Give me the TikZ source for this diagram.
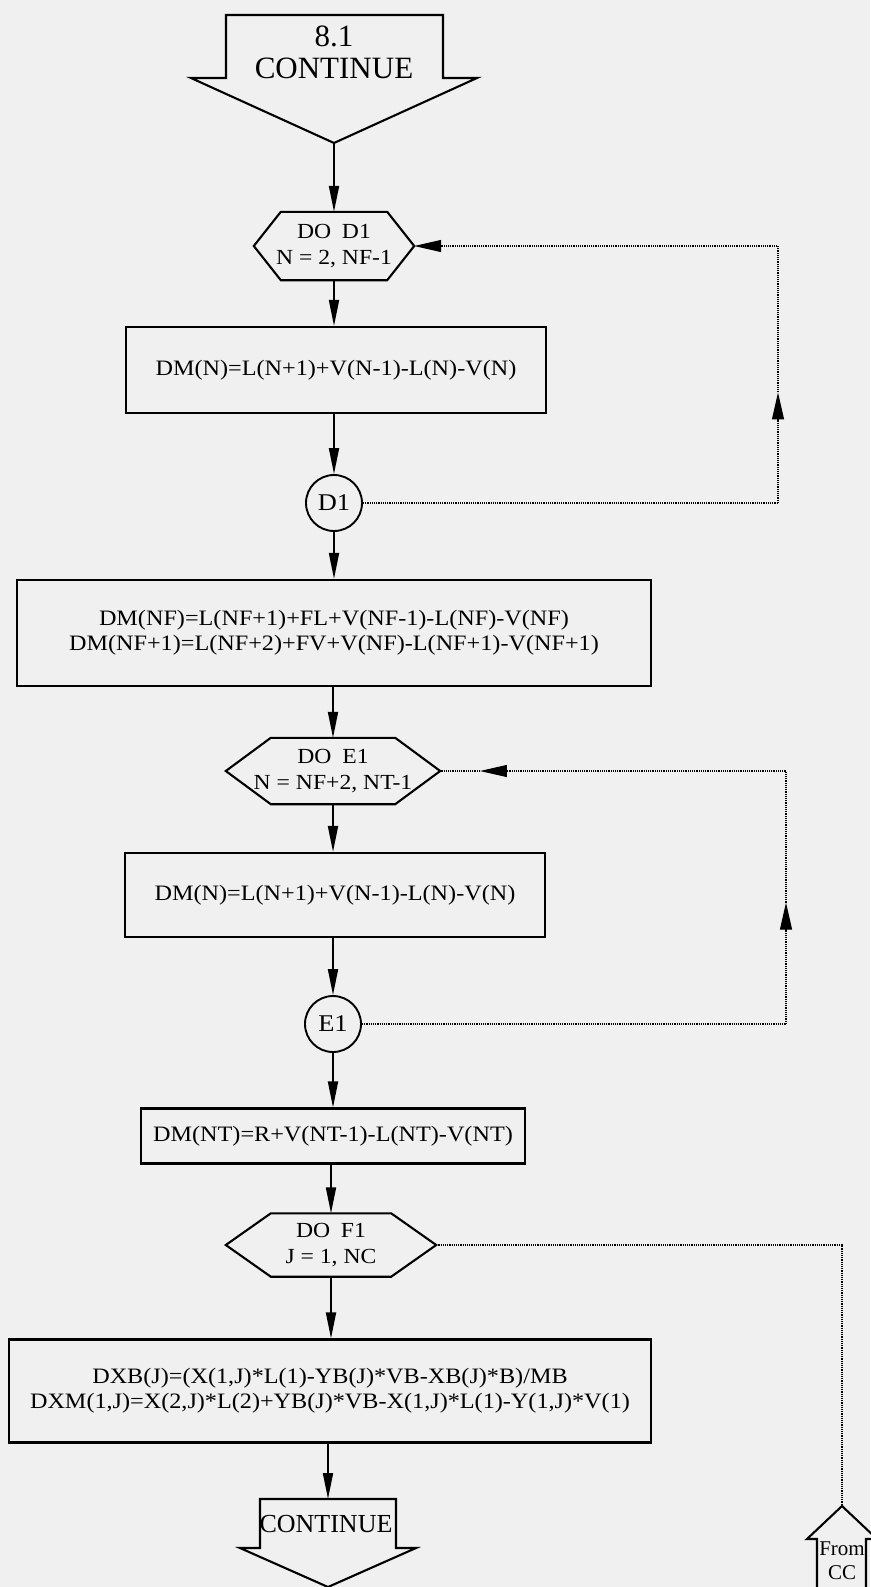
\documentclass[tikz,border=0pt]{standalone}
\usepackage{fontspec}
\setmainfont{Liberation Serif}
\newfontfamily\flowfont[FakeStretch=1.1]{Liberation Serif}
\usetikzlibrary{arrows.meta,positioning,calc}

\tikzset{
  box/.style={draw, line width=2.1pt, align=center, inner sep=0pt,
    font=\flowfont\fontsize{22}{25}\selectfont},
  hexa/.style={align=center, inner sep=0pt,
    font=\flowfont\fontsize{21.5}{26}\selectfont},
  conn/.style={circle, draw, line width=1.9pt, minimum size=56pt, inner sep=0pt,
    font=\flowfont\fontsize{24}{26}\selectfont},
  arrowtxt/.style={align=center, inner sep=0pt},
  outline/.style={line width=2.1pt, line join=miter},
  flow/.style={line width=1.8pt, -{Triangle[length=26pt,width=10pt]}},
  loop/.style={line width=1.1pt, dash pattern=on 1.2pt off 1pt},
  loophead/.style={loop, -{Triangle[length=27pt,width=12pt]}},
}
\newcommand\hexout[2]{%
  \draw[outline] (#1.west) -- ([xshift=#2pt]#1.north west)
    -- ([xshift=-#2pt]#1.north east) -- (#1.east)
    -- ([xshift=-#2pt]#1.south east) -- ([xshift=#2pt]#1.south west) -- cycle;}

\begin{document}
\begin{tikzpicture}[x=1pt, y=-1pt]
  \fill[black!6] (0,0) rectangle (870,1587);
  \useasboundingbox (0,0) rectangle (870,1587);

  % entry arrow
  \node[arrowtxt, font=\fontsize{31}{32}\selectfont] (start) at (334,52) {8.1\\CONTINUE};
  \coordinate (startTip) at (334,143);
  \draw[outline] (226,15) -- (443,15) -- (443,78) -- (477,78) -- (startTip)
    -- (191,78) -- (226,78) -- cycle;

  % loop D1
  \node[hexa, minimum width=160pt, minimum height=68pt] (doD) at (334,246) {DO\enspace D1\\N = 2, NF-1};
  \hexout{doD}{27}
  \node[box, minimum width=420pt, minimum height=86pt] (calcA) at (336,370) {DM(N)=L(N+1)+V(N-1)-L(N)-V(N)};
  \node[conn] (dOne) at (334,503) {D1};

  \node[box, minimum width=634pt, minimum height=106pt] (calcB) at (334,633)
    {DM(NF)=L(NF+1)+FL+V(NF-1)-L(NF)-V(NF)\\DM(NF+1)=L(NF+2)+FV+V(NF)-L(NF+1)-V(NF+1)};

  % loop E1
  \node[hexa, minimum width=214pt, minimum height=66pt] (doE) at (333,771) {DO\enspace E1\\N = NF+2, NT-1};
  \hexout{doE}{45}
  \node[box, minimum width=420pt, minimum height=84pt] (calcC) at (335,895) {DM(N)=L(N+1)+V(N-1)-L(N)-V(N)};
  \node[conn] (eOne) at (333,1024) {E1};

  \node[box, minimum width=384pt, minimum height=55pt] (calcD) at (333,1136) {DM(NT)=R+V(NT-1)-L(NT)-V(NT)};

  % loop F1
  \node[hexa, minimum width=210pt, minimum height=63pt] (doF) at (331,1245) {DO\enspace F1\\J = 1, NC};
  \hexout{doF}{45}
  \node[box, minimum width=642pt, minimum height=103pt] (calcE) at (330,1391)
    {DXB(J)=(X(1,J)*L(1)-YB(J)*VB-XB(J)*B)/MB\\DXM(1,J)=X(2,J)*L(2)+YB(J)*VB-X(1,J)*L(1)-Y(1,J)*V(1)};

  % exit arrow
  \coordinate (stopTop) at (328,1499);
  \node[arrowtxt, font=\fontsize{26}{28}\selectfont] (stop) at (326,1524) {CONTINUE};
  \draw[outline] (stopTop) -- (396,1499) -- (396,1548) -- (416,1548) -- (328,1587)
    -- (240,1548) -- (260,1548) -- (260,1499) -- cycle;

  % off-page connector
  \coordinate (fromTip) at (842,1506);
  \node[arrowtxt, font=\fontsize{21}{24}\selectfont] (fromCC) at (842,1561) {From\\CC};
  \draw[outline] (fromTip) -- (877,1539) -- (866,1539) -- (866,1600) -- (817,1600)
    -- (817,1539) -- (807,1539) -- cycle;

  % main flow
  \draw[flow] (startTip) -- (doD.north);
  \draw[flow] (doD.south) -- (calcA.north -| doD.south);
  \draw[flow] (calcA.south -| dOne.north) -- (dOne.north);
  \draw[flow] (dOne.south) -- (calcB.north -| dOne.south);
  \draw[flow] (calcB.south -| doE.north) -- (doE.north);
  \draw[flow] (doE.south) -- (calcC.north -| doE.south);
  \draw[flow] (calcC.south -| eOne.north) -- (eOne.north);
  \draw[flow] (eOne.south) -- (calcD.north -| eOne.south);
  \draw[flow] (calcD.south -| doF.north) -- (doF.north);
  \draw[flow] (doF.south) -- (calcE.north -| doF.south);
  \draw[flow] (calcE.south -| stopTop) -- (stopTop);

  % dotted returns
  \coordinate (dLoopA) at (778,503);
  \coordinate (dLoopB) at (778,246);
  \coordinate (dMid) at ($(dLoopA)!0.43!(dLoopB)$);
  \draw[loop] (dOne.east) -- (dLoopA);
  \draw[loophead] (dLoopA) -- (dMid);
  \draw[loophead] (dMid) -- (dLoopB) -- (doD.east);

  \coordinate (eLoopA) at (786,1024);
  \coordinate (eLoopB) at (786,771);
  \coordinate (eMid) at ($(eLoopA)!0.48!(eLoopB)$);
  \coordinate (eHead) at ($(eLoopB)!0.885!(doE.east)$);
  \draw[loop] (eOne.east) -- (eLoopA);
  \draw[loophead] (eLoopA) -- (eMid);
  \draw[loophead] (eMid) -- (eLoopB) -- (eHead);
  \draw[loop] (eHead) -- (doE.east);

  \coordinate (fLoop) at (842,1245);
  \draw[loop] (doF.east) -- (fLoop) -- (fromTip);
\end{tikzpicture}
\end{document}
